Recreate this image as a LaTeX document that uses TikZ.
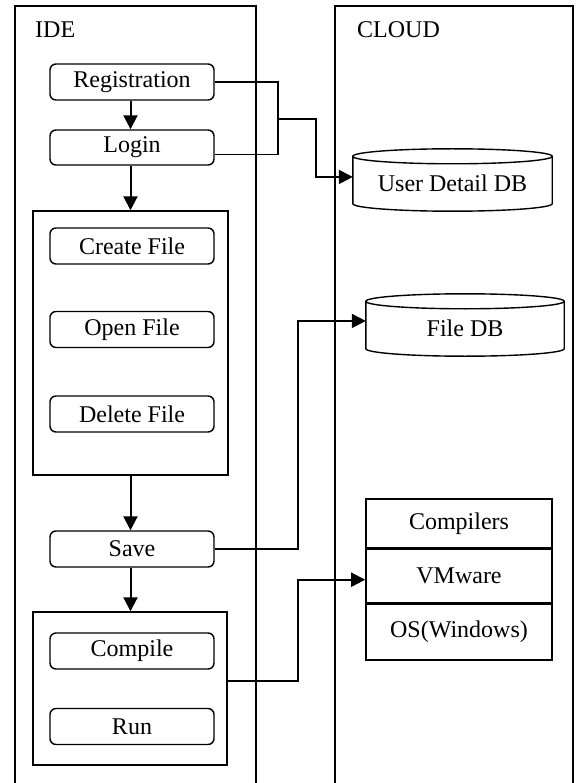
\documentclass[tikz,border=0pt]{standalone}
\usepackage{fontspec}
\setmainfont{Liberation Serif}
\usetikzlibrary{arrows.meta,calc}

% outline of a database cylinder drawn round a text node
\newcommand\dbshape[1]{%
  \draw[line width=1.4pt] let \p1=(#1.north west), \p2=(#1.south east),
        \n1={(\x2-\x1)/2} in
    (\p1) -- (\x1,{\y2+7.5pt})
    arc[start angle=180,end angle=360,x radius=\n1,y radius=7.5pt]
    -- (\x2,\y1)
    arc[start angle=0,end angle=360,x radius=\n1,y radius=7.5pt];}

\begin{document}
\begin{tikzpicture}[x=1pt,y=1pt,
  font=\fontsize{24}{28}\selectfont,
  panel/.style={line width=1.2pt},
  stepbox/.style={draw, line width=1.4pt, rounded corners=6pt,
    minimum width=164pt, minimum height=36pt, inner sep=0pt},
  group/.style={draw, line width=1.4pt, inner sep=0pt},
  layer/.style={draw, line width=1.6pt, minimum width=186pt, inner sep=0pt},
  dbtext/.style={inner sep=0pt, minimum height=54.5pt},
  flow/.style={line width=2pt, -{Triangle[length=14pt,width=14pt]}},
  link/.style={line width=1.3pt},
  feed/.style={line width=2pt, -{Triangle[length=14pt,width=14pt]}},
  title/.style={anchor=base west, inner sep=0pt}]

\fill[white] (0,0) rectangle (576,-783);
\useasboundingbox (0,0) rectangle (576,-783);

% the two swim lanes
\draw[panel] (15,-783) -- (15,-6) -- (256,-6) -- (256,-783);
\draw[panel] (335,-783) -- (335,-6) -- (573,-6) -- (573,-783);
\node[title] (idetitle) at (35,-38) {IDE};
\node[title] (cloudtitle) at (357,-38) {CLOUD};

% IDE side
\node[stepbox] (reg) at (132,-82) {Registration};
\node[stepbox, minimum height=35pt] (login) at (132,-147.5) {Login};
\node[group, minimum width=195pt, minimum height=264pt] (files) at (130.5,-343) {};
\node[stepbox] (create) at (132,-246) {Create File};
\node[stepbox] (open) at (132,-329.5) {Open File};
\node[stepbox] (delete) at (132,-414) {Delete File};
\node[stepbox] (save) at (132,-549) {Save};
\node[group, minimum width=194pt, minimum height=153pt] (exec) at (130,-688.5) {};
\node[stepbox] (compile) at (132,-651) {Compile};
\node[stepbox] (run) at (132,-726.5) {Run};

\draw[flow] (reg.south -| files.north) -- (login.north -| files.north);
\draw[flow] (login.south -| files.north) -- (files.north);
\draw[flow] (files.south) -- (save.north -| files.south);
\draw[flow] (save.south -| files.south) -- (exec.north -| files.south);

% cloud side
\node[dbtext, minimum width=199pt] (udb) at (452.5,-183.75) {User Detail DB};
\dbshape{udb}
\node[dbtext, minimum width=198pt] (fdb) at (465,-328.75) {File DB};
\dbshape{fdb}

\node[layer, minimum height=49pt] (comp) at (459,-523.5) {Compilers};
\node[layer, minimum height=53pt, anchor=north] (vm) at (comp.south) {VMware};
\node[layer, minimum height=56pt, anchor=north] (os) at (vm.south) {OS(Windows)};

% connectors between the lanes
\coordinate (bus) at (278,-119);
\coordinate (udbturn) at (316,0);
\coordinate (savebus) at (298,0);
\coordinate (loginout) at ($(login.south east)!0.31!(login.north east)$);
\coordinate (udbin) at ($(udb.north west)!0.376!(udb.south west)$);
\coordinate (fdbin) at ($(fdb.north west)!0.358!(fdb.south west)$);
\coordinate (execout) at ($(exec.south east)!0.549!(exec.north east)$);
\coordinate (vmin) at ($(vm.north west)!0.566!(vm.south west)$);

\draw[link] (reg.east) -| (bus);
\draw[link] (loginout) -| (bus);
\draw[feed] (bus) -| (udbturn |- udbin) -- (udbin);
\draw[feed] (save.east) -| (savebus |- fdbin) -- (fdbin);
\draw[feed] (execout) -| (savebus |- vmin) -- (vmin);
\end{tikzpicture}
\end{document}
